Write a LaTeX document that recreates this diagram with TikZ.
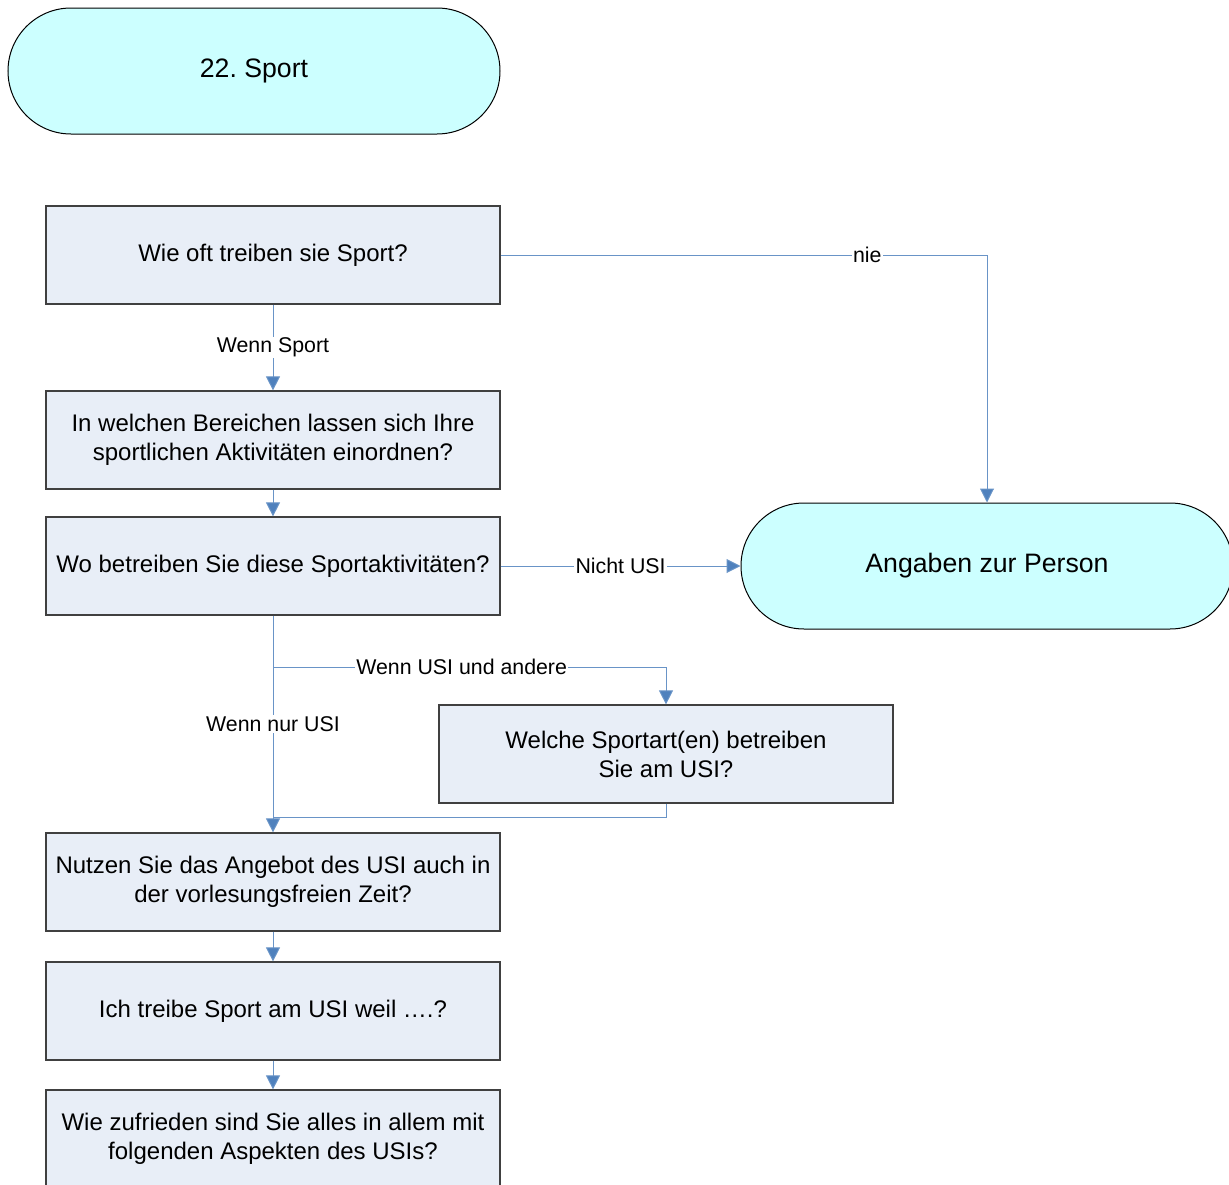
\documentclass[tikz,border=0pt]{standalone}
\usepackage{fontspec}
\setmainfont{Liberation Sans}
\frenchspacing
\usetikzlibrary{arrows.meta, positioning}
\definecolor{kasten}{RGB}{232,238,247}
\definecolor{tuerkis}{RGB}{204,255,255}
\definecolor{blaulinie}{RGB}{79,129,189}
\tikzset{
  frage/.style={draw=black!75, line width=0.9pt, fill=kasten, minimum width=340.5pt, minimum height=73.5pt,
    align=center, inner sep=2pt, font=\fontsize{18}{21.75}\selectfont},
  ende/.style={draw=black, line width=0.75pt, fill=tuerkis, minimum width=369pt, minimum height=94.5pt,
    rounded corners=47.25pt, font=\fontsize{20}{24}\selectfont},
  verbindung/.style={draw=blaulinie!85, line width=0.75pt},
  pfeil/.style={verbindung, -{Triangle[length=10.5pt,width=10.5pt,fill=blaulinie]}},
  marke/.style={fill=white, inner sep=1pt, font=\fontsize{16}{19}\selectfont},
}

\begin{document}
\begin{tikzpicture}[x=0.75pt, y=-0.75pt]
        \useasboundingbox (0,0) rectangle (1229,1185);

        % Start and end
        \node[ende] (start) at (254,71) {22. Sport};
        \node[ende] (person) at (987,566) {Angaben zur Person};

        % Questions
        \node[frage] (f1) at (273,255) {Wie oft treiben sie Sport?};
        \node[frage] (f2) at (273,440) {In welchen Bereichen lassen sich Ihre\\sportlichen Aktivitäten einordnen?};
        \node[frage] (f3) at (273,566) {Wo betreiben Sie diese Sportaktivitäten?};
        \node[frage] (f4) at (666,754) {Welche Sportart(en) betreiben\\Sie am USI?};
        \node[frage] (f5) at (273,882) {Nutzen Sie das Angebot des USI auch in\\der vorlesungsfreien Zeit?};
        \node[frage] (f6) at (273,1011) {Ich treibe Sport am USI weil ….?};
        \node[frage] (f7) at (273,1139) {Wie zufrieden sind Sie alles in allem mit\\folgenden Aspekten des USIs?};

        % Branch points
        \coordinate (abzweig) at (273,667);
        \coordinate (zusammen) at (273,817);

        % Connectors
        \draw[pfeil] (f1.east) -| node[marke, pos=0.377] {nie} (person.north);
        \draw[pfeil] (f1) -- node[marke] {Wenn Sport} (f2);
        \draw[pfeil] (f2) -- (f3);
        \draw[pfeil] (f3) -- node[marke] {Nicht USI} (person);
        \draw[pfeil] (f3) -- node[marke] {Wenn nur USI} (f5);
        \draw[pfeil] (abzweig) -| node[marke, pos=0.24] {Wenn USI und andere} (f4.north);
        \draw[verbindung] (f4.south) |- (zusammen);
        \draw[pfeil] (f5) -- (f6);
        \draw[pfeil] (f6) -- (f7);
    \end{tikzpicture}
\end{document}
